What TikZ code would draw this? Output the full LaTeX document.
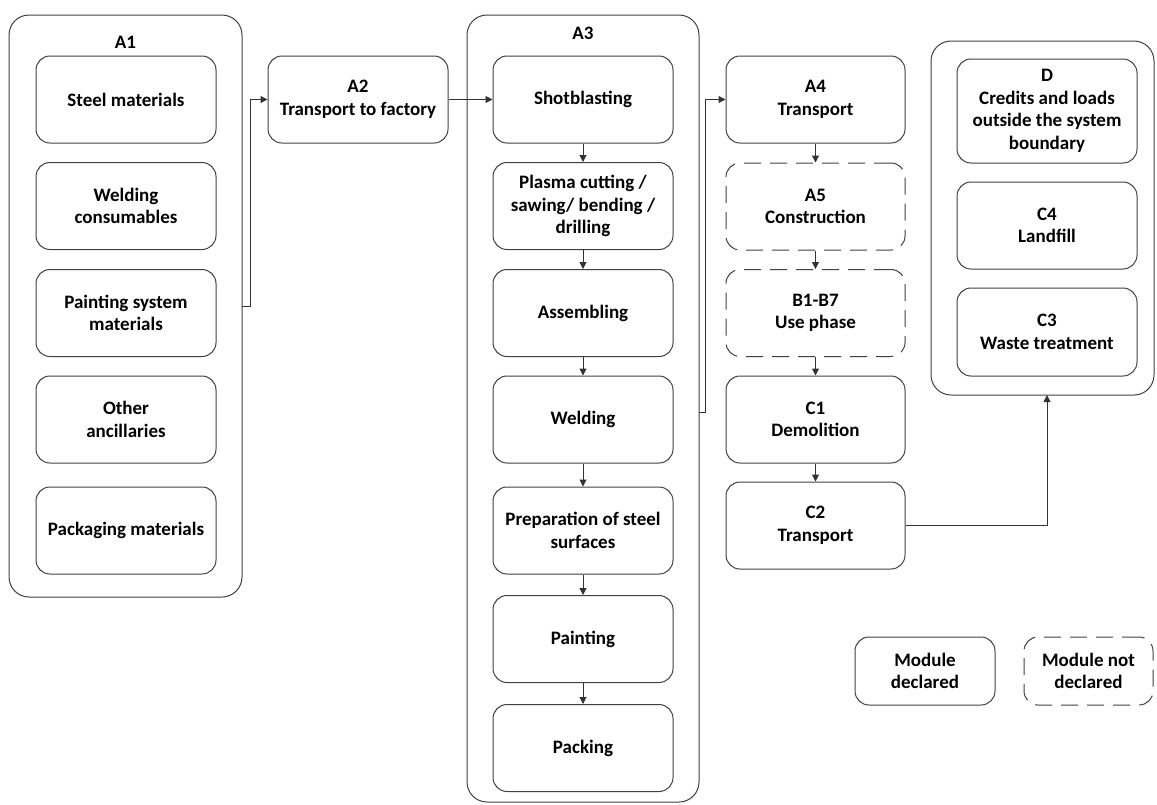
\documentclass[tikz,border=0pt]{standalone}
\usepackage{fontspec}
\setmainfont{Carlito}
\usetikzlibrary{arrows.meta}
\begin{document}
\begin{tikzpicture}[x=1pt,y=-1pt,
  every node/.style={font=\fontsize{19}{22.5}\selectfont\bfseries, align=center, inner sep=0pt},
  stepbox/.style={draw=black!75, line width=1pt, rounded corners=14pt, minimum width=180pt, minimum height=87pt},
  ndbox/.style={stepbox, dash pattern=on 17pt off 9pt},
  cont/.style={draw=black!75, line width=1pt, rounded corners=20pt},
  arr/.style={draw=black!80, line width=1pt, -{Triangle[length=7pt,width=7pt]}},
  ln/.style={draw=black!80, line width=1pt}]
\useasboundingbox (0,0) rectangle (1157,804);
% containers
\node[cont, minimum width=233pt, minimum height=582pt] (A1box) at (125.5,306) {};
\node (A1lab) at (125.5,42) {A1};
\node[cont, minimum width=232pt, minimum height=787pt] (A3box) at (583,408.5) {};
\node (A3lab) at (583,33) {A3};
\node[cont, minimum width=223pt, minimum height=354pt] (Rbox) at (1042.5,218) {};
% A1 column
\node[stepbox] (steel) at (126,99.5) {Steel materials};
\node[stepbox] (weldc) at (126,206) {Welding\\consumables};
\node[stepbox] (paintm) at (126,313) {Painting system\\materials};
\node[stepbox] (other) at (126,419.5) {Other\\ancillaries};
\node[stepbox] (packm) at (126,530.5) {Packaging materials};
% A2
\node[stepbox] (A2) at (358,99.5) {A2\\Transport to factory};
% A3 column
\node[stepbox] (shot) at (583,99.5) {Shotblasting};
\node[stepbox] (plasma) at (583,206) {Plasma cutting /\\sawing/ bending /\\drilling};
\node[stepbox] (assem) at (583,313) {Assembling};
\node[stepbox] (weld) at (583,419.5) {Welding};
\node[stepbox] (prep) at (583,530.5) {Preparation of steel\\surfaces};
\node[stepbox] (paint) at (583,639) {Painting};
\node[stepbox] (pack) at (583,748) {Packing};
% A4 column
\node[stepbox, minimum width=179pt] (A4) at (815.5,99.5) {A4\\Transport};
\node[ndbox, minimum width=179pt] (A5) at (815.5,206.5) {A5\\Construction};
\node[ndbox, minimum width=179pt] (B17) at (815.5,313) {B1-B7\\Use phase};
\node[stepbox, minimum width=179pt] (C1) at (815.5,419.5) {C1\\Demolition};
\node[stepbox, minimum width=179pt] (C2) at (815.5,525.5) {C2\\Transport};
% right column
\node[stepbox, minimum height=104pt] (D) at (1047,111) {D\\Credits and loads\\outside the system\\boundary};
\node[stepbox] (C4) at (1047,225.5) {C4\\Landfill};
\node[stepbox, minimum height=88pt] (C3) at (1047,332) {C3\\Waste treatment};
% legend
\node[stepbox, minimum width=140pt, minimum height=68pt] (leg1) at (925,671) {Module\\declared};
\node[ndbox, minimum width=129pt, minimum height=68pt] (leg2) at (1088.5,671) {Module not\\declared};
% connectors
\coordinate (p1) at (242,306);
\coordinate (p2) at (250,306);
\draw[arr] (p1) -- (p2) |- (A2.west);
\draw[arr] (A2) -- (shot);
\draw[arr] (shot) -- (plasma);
\draw[arr] (plasma) -- (assem);
\draw[arr] (assem) -- (weld);
\draw[arr] (weld) -- (prep);
\draw[arr] (prep) -- (paint);
\draw[arr] (paint) -- (pack);
\coordinate (q1) at (699,412);
\coordinate (q2) at (705.5,412);
\draw[arr] (q1) -- (q2) |- (A4.west);
\draw[arr] (A4) -- (A5);
\draw[arr] (A5) -- (B17);
\draw[arr] (B17) -- (C1);
\draw[arr] (C1) -- (C2);
\coordinate (rin) at (1047,395);
\draw[arr] (C2.east) -| (rin);
\end{tikzpicture}
\end{document}
